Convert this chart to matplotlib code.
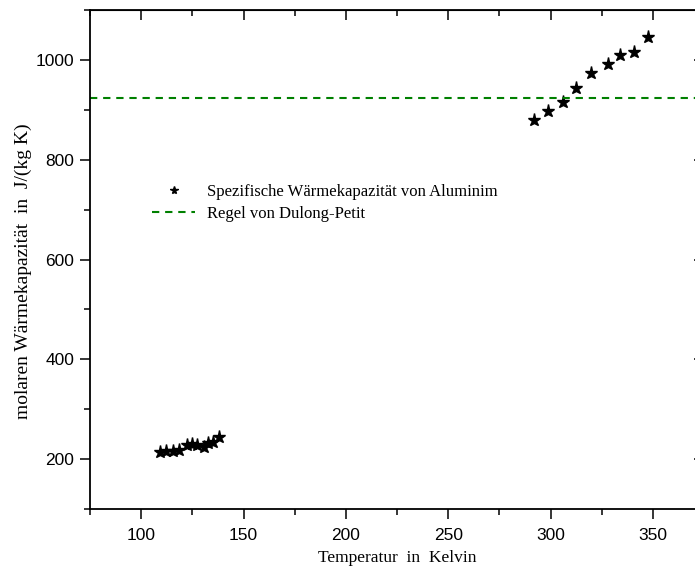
import numpy as np
import matplotlib.pyplot as plt
from matplotlib.ticker import MultipleLocator

# measured specific heat of aluminium (two temperature ranges)
temp_low = [109.2, 112.1, 115.4, 118.6, 122.2, 124.7, 127.4, 130.7, 132.8, 134.9, 138.2]
c_low = [214.6, 216.0, 216.0, 217.4, 228.0, 229.4, 228.0, 224.6, 231.4, 234.6, 243.4]

temp_high = [292.1, 298.6, 306.2, 312.7, 320.0, 328.2, 333.9, 340.7, 347.8]
c_high = [879.4, 898.0, 916.0, 944.6, 973.4, 991.4, 1010.0, 1016.6, 1046.0]

dulong_petit = 924.0

temps = np.array(temp_low + temp_high)
cap = np.array(c_low + c_high)

serif = ['Liberation Serif', 'DejaVu Serif']
sans = ['Liberation Sans', 'DejaVu Sans']

fig = plt.figure(figsize=(6.95, 5.70), dpi=100)
ax = fig.add_axes([90 / 695, 1 - 509 / 570, 614 / 695, 499 / 570])

ax.plot(temps, cap, linestyle='none', marker='*', markersize=9.5,
        color='black', label='Spezifische Wärmekapazität von Aluminim')
ax.axhline(dulong_petit, color='#008000', linewidth=1.5, dashes=(3.5, 2.8),
           label='Regel von Dulong-Petit')

ax.set_xlim(75, 375)
ax.set_ylim(100, 1100)
ax.xaxis.set_major_locator(MultipleLocator(50))
ax.xaxis.set_minor_locator(MultipleLocator(25))
ax.yaxis.set_major_locator(MultipleLocator(200))
ax.yaxis.set_minor_locator(MultipleLocator(100))

for s in ax.spines.values():
    s.set_linewidth(1.3)
ax.tick_params(which='major', direction='out', length=7.3, width=1.1,
               labelsize=12.5)
ax.tick_params(axis='x', which='major', pad=6.5)
ax.tick_params(axis='y', which='major', pad=4)
ax.tick_params(which='minor', direction='out', length=4.3, width=1.1)
for lab in ax.get_xticklabels() + ax.get_yticklabels():
    lab.set_family(sans)

# inward ticks on top and right
top = ax.secondary_xaxis('top')
top.xaxis.set_major_locator(MultipleLocator(50))
top.xaxis.set_minor_locator(MultipleLocator(25))
top.tick_params(which='major', direction='in', length=7.3, width=1.1, labeltop=False)
top.tick_params(which='minor', direction='in', length=4.3, width=1.1)
right = ax.secondary_yaxis('right')
right.yaxis.set_major_locator(MultipleLocator(200))
right.yaxis.set_minor_locator(MultipleLocator(100))
right.tick_params(which='major', direction='in', length=7.3, width=1.1, labelright=False)
right.tick_params(which='minor', direction='in', length=4.3, width=1.1)

ax.set_xlabel('Temperatur  in  Kelvin', family=serif, fontsize=12.5, labelpad=5)
ax.set_ylabel('molaren Wärmekapazität  in  J/(kg K)', family=serif, fontsize=14)
ax.yaxis.set_label_coords(-0.094, 0.477)

ax.legend(loc='upper left', bbox_to_anchor=(0.101, 0.651), frameon=False,
          borderaxespad=0, borderpad=0, handlelength=2.6, handletextpad=0.7,
          labelspacing=0.35, markerscale=0.6, prop={'family': serif, 'size': 12})

fig.savefig('out.png', dpi=100)
